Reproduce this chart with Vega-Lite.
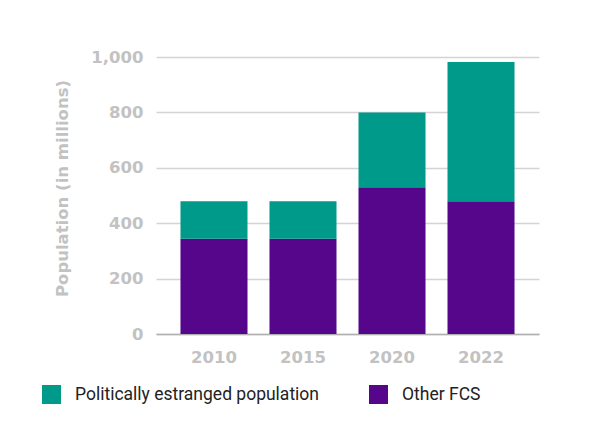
{
  "$schema": "https://vega.github.io/schema/vega-lite/v6.json",
  "width": 383,
  "height": 277,
  "autosize": {"type": "none"},
  "padding": {"left": 156, "top": 57, "right": 67, "bottom": 98},
  "background": "white",
  "data": {
    "values": [
      {"year": "2010", "group": "Other FCS", "value": 344},
      {"year": "2010", "group": "Politically estranged population", "value": 135},
      {"year": "2015", "group": "Other FCS", "value": 344},
      {"year": "2015", "group": "Politically estranged population", "value": 135},
      {"year": "2020", "group": "Other FCS", "value": 530},
      {"year": "2020", "group": "Politically estranged population", "value": 270},
      {"year": "2022", "group": "Other FCS", "value": 479},
      {"year": "2022", "group": "Politically estranged population", "value": 503}
    ]
  },
  "mark": {"type": "bar"},
  "encoding": {
    "x": {
      "field": "year", "type": "nominal",
      "scale": {"paddingInner": 0.247, "paddingOuter": 0.275},
      "axis": {
        "title": null, "labelAngle": 0, "ticks": false,
        "labelPadding": 15, "labelFont": "DejaVu Sans", "labelFontWeight": "bold",
        "labelFontSize": 16.5, "labelColor": "#c2c2c2",
        "domainColor": "#b0b0b0", "domainWidth": 1.5
      }
    },
    "y": {
      "field": "value", "type": "quantitative", "stack": "zero",
      "scale": {"domain": [0, 1000]},
      "axis": {
        "title": "Population (in millions)",
        "titleFont": "DejaVu Sans", "titleFontWeight": "bold", "titleFontSize": 16.5,
        "titleColor": "#c2c2c2", "titlePadding": 20, "titleY": 131,
        "values": [0, 200, 400, 600, 800, 1000],
        "format": ",d",
        "ticks": false, "domain": false, "labelPadding": 13,
        "labelBaseline": "alphabetic", "labelOffset": 5,
        "labelFont": "DejaVu Sans", "labelFontWeight": "bold",
        "labelFontSize": 16.5, "labelColor": "#c2c2c2",
        "gridColor": "#d4d4d4", "gridWidth": 1.5
      }
    },
    "color": {
      "field": "group", "type": "nominal",
      "scale": {
        "domain": ["Politically estranged population", "Other FCS"],
        "range": ["#009a8a", "#55068b"]
      },
      "legend": {
        "title": null, "orient": "none", "direction": "horizontal",
        "legendX": -114, "legendY": 328,
        "symbolType": "square", "symbolSize": 361, "symbolStrokeWidth": 0,
        "labelFont": "Roboto", "labelFontSize": 17.5, "labelColor": "#222222",
        "labelLimit": 0, "labelOffset": 14, "columnPadding": 49
      }
    },
    "order": {"field": "group", "sort": "ascending"}
  },
  "config": {"view": {"stroke": null}}
}
